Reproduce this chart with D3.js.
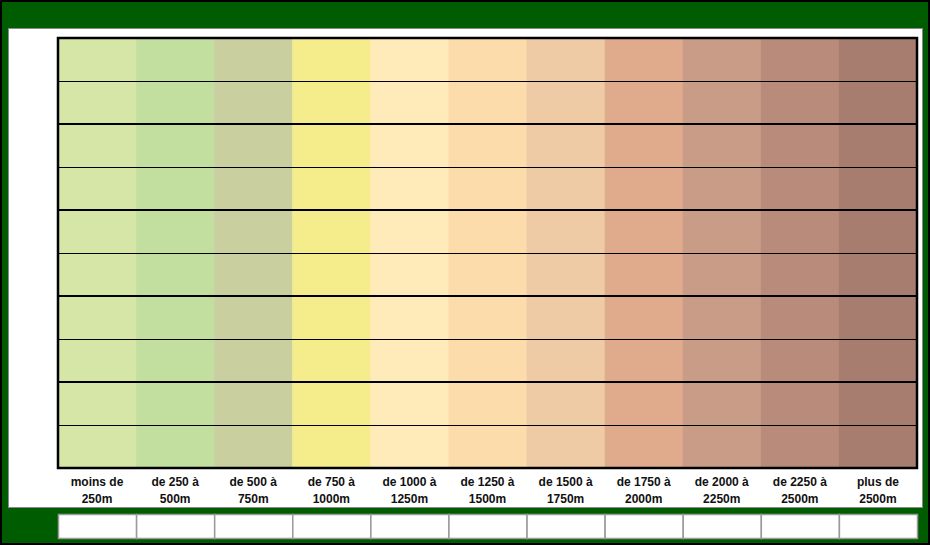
<!DOCTYPE html>
<html>
<head>
<meta charset="utf-8">
<script src="https://cdn.jsdelivr.net/npm/d3@7"></script>
<style>
  html, body { margin: 0; padding: 0; background: #005c00; }
  svg { display: block; }
</style>
</head>
<body>
<svg id="chart" width="930" height="545"></svg>
<script>
// Altitude classes (one column each)
const categories = [
  ["moins de", "250m"],
  ["de 250 à", "500m"],
  ["de 500 à", "750m"],
  ["de 750 à", "1000m"],
  ["de 1000 à", "1250m"],
  ["de 1250 à", "1500m"],
  ["de 1500 à", "1750m"],
  ["de 1750 à", "2000m"],
  ["de 2000 à", "2250m"],
  ["de 2250 à", "2500m"],
  ["plus de", "2500m"]
];
// Hypsometric tint of each class
const bandColors = [
  "#d6e6a6", "#c3dfa0", "#c9cf9f", "#f5ed8c", "#feebb9", "#fcdcaa",
  "#efcba5", "#dfab8c", "#c99c87", "#b98b7b", "#a77d6f"
];
// Grid rows
const rows = d3.range(10);

const W = 930, H = 545;
const plot = { left: 58, top: 38, right: 917, bottom: 468 };

const svg = d3.select("#chart");

// Frame: black outline, green background, white panel
svg.append("rect").attr("x", 1).attr("y", 1).attr("width", W - 2).attr("height", H - 2)
  .attr("fill", "#005c00").attr("stroke", "#000").attr("stroke-width", 2);
svg.append("rect").attr("x", 8.5).attr("y", 28.5).attr("width", 914).attr("height", 479)
  .attr("fill", "#fff").attr("stroke", "#8a8a8a").attr("stroke-width", 1);

const x = d3.scaleBand().domain(d3.range(categories.length))
  .range([plot.left, plot.right]).paddingInner(0).paddingOuter(0);
const y = d3.scaleBand().domain(rows).range([plot.top, plot.bottom]);

// Colour columns
svg.append("g").selectAll("rect").data(categories).join("rect")
  .attr("x", (d, i) => x(i)).attr("y", plot.top)
  .attr("width", x.bandwidth() + 0.5).attr("height", plot.bottom - plot.top)
  .attr("fill", (d, i) => bandColors[i]);

// Horizontal row separators: every second one heavier
svg.append("g").selectAll("line").data(rows.slice(1)).join("line")
  .attr("x1", plot.left).attr("x2", plot.right)
  .attr("y1", d => Math.round(y(d)) + (d % 2 === 0 ? 0 : 0.5))
  .attr("y2", d => Math.round(y(d)) + (d % 2 === 0 ? 0 : 0.5))
  .attr("stroke", "#000")
  .attr("stroke-width", d => d % 2 === 0 ? 2 : 1.2);

// Plot border
svg.append("rect").attr("x", plot.left).attr("y", plot.top)
  .attr("width", plot.right - plot.left).attr("height", plot.bottom - plot.top)
  .attr("fill", "none").attr("stroke", "#000").attr("stroke-width", 2.5);

// Category labels (two lines each)
const labels = svg.append("g")
  .attr("font-family", "'Liberation Sans', Arial, sans-serif")
  .attr("font-size", 12).attr("font-weight", "bold").attr("fill", "#111")
  .attr("text-anchor", "middle");
labels.selectAll("text").data(categories).join("text")
  .attr("x", (d, i) => x(i) + x.bandwidth() / 2)
  .attr("y", 486)
  .each(function (d) {
    const t = d3.select(this);
    t.append("tspan").attr("x", t.attr("x")).attr("dy", 0).text(d[0]);
    t.append("tspan").attr("x", t.attr("x")).attr("dy", 17).text(d[1]);
  });

// Empty cells strip under the panel
svg.append("g").selectAll("rect").data(categories).join("rect")
  .attr("x", (d, i) => x(i) + 0.5).attr("y", 514.5)
  .attr("width", x.bandwidth()).attr("height", 24)
  .attr("fill", "#fff").attr("stroke", "#9a9a9a").attr("stroke-width", 1.5);
</script>
</body>
</html>
